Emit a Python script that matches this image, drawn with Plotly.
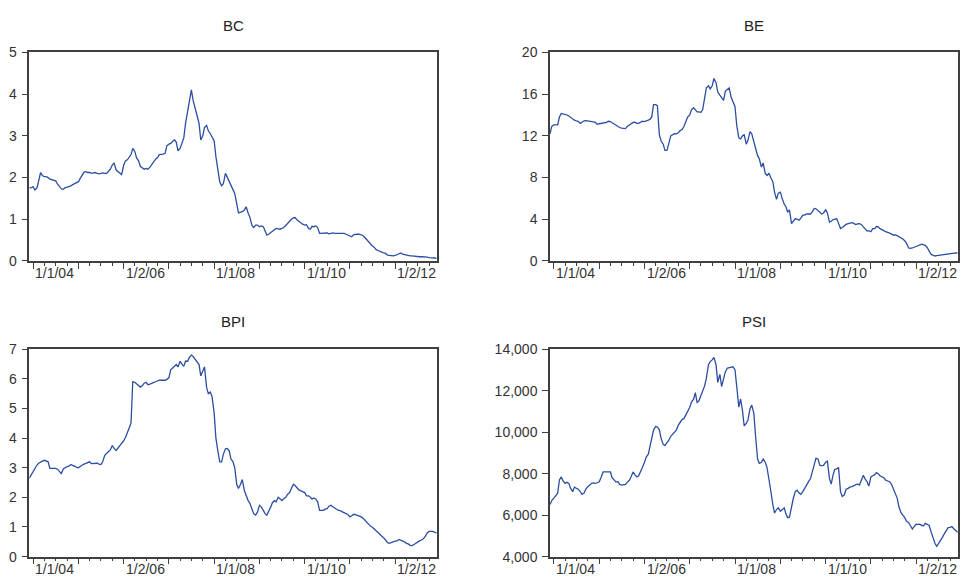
import pandas as pd
import plotly.graph_objects as go

# Observations on the 1st of each month (Dec 2003 .. Dec 2012) and on the 15th (Dec 2003 .. Nov 2012)
dates = pd.date_range("2003-12-01", "2012-12-01", freq="SMS")

bc_first = [1.75, 1.78, 1.75, 2.12, 2.02, 2.0, 1.95, 1.92, 1.78, 1.72,
            1.77, 1.8, 1.85, 1.9, 2.06, 2.14, 2.12, 2.11, 2.1, 2.1,
            2.1, 2.15, 2.3, 2.18, 2.12, 2.3, 2.43, 2.55, 2.62, 2.4,
            2.22, 2.22, 2.25, 2.38, 2.48, 2.55, 2.58, 2.8, 2.87, 2.85,
            2.7, 2.95, 3.6, 4.1, 3.62, 3.3, 3.0, 3.25, 3.05, 2.88,
            2.1, 1.8, 2.1, 1.9, 1.71, 1.4, 1.17, 1.22, 1.15, 0.85,
            0.86, 0.82, 0.82, 0.62, 0.68, 0.75, 0.77, 0.78, 0.85, 0.95,
            1.03, 0.98, 0.9, 0.86, 0.78, 0.83, 0.84, 0.66, 0.66, 0.67,
            0.66, 0.66, 0.66, 0.66, 0.64, 0.6, 0.63, 0.64, 0.63, 0.56,
            0.45, 0.36, 0.27, 0.22, 0.19, 0.14, 0.12, 0.13, 0.18, 0.16,
            0.13, 0.12, 0.11, 0.1, 0.1, 0.09, 0.08, 0.07, 0.06]
bc_mid = [1.75, 1.7, 1.95, 2.05, 2.02, 1.96, 1.94, 1.85, 1.73, 1.76,
          1.78, 1.83, 1.88, 1.98, 2.13, 2.12, 2.1, 2.12, 2.09, 2.11,
          2.1, 2.2, 2.35, 2.15, 2.07, 2.4, 2.48, 2.7, 2.47, 2.27,
          2.2, 2.2, 2.3, 2.44, 2.55, 2.56, 2.76, 2.82, 2.9, 2.64,
          2.8, 3.3, 3.9, 3.85, 3.5, 2.9, 3.2, 3.12, 2.98, 2.5,
          1.9, 1.85, 2.0, 1.82, 1.62, 1.15, 1.18, 1.3, 1.05, 0.8,
          0.86, 0.84, 0.7, 0.64, 0.72, 0.78, 0.76, 0.8, 0.9, 1.0,
          1.04, 0.95, 0.88, 0.87, 0.76, 0.82, 0.8, 0.66, 0.67, 0.65,
          0.67, 0.66, 0.65, 0.66, 0.62, 0.58, 0.64, 0.64, 0.61, 0.51,
          0.42, 0.33, 0.25, 0.21, 0.18, 0.13, 0.12, 0.15, 0.19, 0.15,
          0.12, 0.12, 0.11, 0.1, 0.1, 0.09, 0.08, 0.07]

be_first = [12.2, 13.06, 13.06, 14.15, 14.06, 13.9, 13.6, 13.44, 13.2, 13.44,
            13.44, 13.37, 13.3, 13.16, 13.2, 13.3, 13.37, 13.12, 12.9, 12.75,
            12.7, 13.06, 13.28, 13.2, 13.3, 13.37, 13.5, 13.84, 15.0, 12.1,
            11.2, 10.6, 12.0, 12.2, 12.3, 12.6, 13.5, 14.0, 14.7, 14.3,
            14.25, 15.9, 16.8, 16.8, 17.1, 15.9, 15.4, 16.5, 15.7, 14.8,
            11.8, 12.0, 11.2, 12.4, 11.5, 10.1, 9.0, 8.4, 8.4, 7.6,
            5.9, 6.6, 5.44, 4.67, 3.58, 4.04, 3.9, 4.4, 4.5, 4.5,
            5.04, 4.8, 4.5, 4.9, 3.73, 3.95, 4.04, 3.1, 3.42, 3.58,
            3.67, 3.48, 3.58, 3.27, 2.86, 2.8, 3.1, 3.27, 2.95, 2.8,
            2.64, 2.49, 2.43, 2.24, 1.93, 1.24, 1.24, 1.4, 1.55, 1.55,
            1.24, 0.62, 0.47, 0.53, 0.56, 0.62, 0.72, 0.78, 0.75]
be_mid = [12.9, 13.06, 13.8, 14.1, 14.0, 13.75, 13.5, 13.4, 13.3, 13.45,
          13.4, 13.35, 13.1, 13.2, 13.3, 13.4, 13.25, 13.0, 12.8, 12.7,
          12.9, 13.2, 13.3, 13.2, 13.4, 13.4, 13.6, 15.0, 14.9, 11.5,
          10.6, 11.2, 12.1, 12.2, 12.5, 12.9, 13.8, 14.5, 14.5, 14.3,
          14.5, 16.6, 16.5, 17.5, 16.2, 15.6, 16.3, 16.6, 15.2, 13.0,
          11.7, 12.1, 11.6, 12.2, 10.9, 9.8, 9.4, 8.2, 8.0, 6.6,
          6.5, 6.0, 5.2, 4.9, 3.8, 4.0, 4.1, 4.4, 4.5, 4.7,
          5.0, 4.6, 4.6, 4.6, 3.8, 4.0, 3.6, 3.2, 3.5, 3.6,
          3.6, 3.55, 3.5, 3.1, 2.9, 3.1, 3.3, 3.1, 2.9, 2.75,
          2.6, 2.5, 2.35, 2.1, 1.7, 1.2, 1.3, 1.45, 1.6, 1.5,
          0.9, 0.55, 0.5, 0.55, 0.58, 0.65, 0.75, 0.77]

bpi_first = [2.65, 2.87, 3.09, 3.2, 3.25, 3.2, 2.98, 2.98, 2.87, 2.96,
             3.04, 3.11, 3.04, 3.0, 3.09, 3.15, 3.2, 3.15, 3.15, 3.11,
             3.42, 3.53, 3.75, 3.58, 3.72, 3.91, 4.18, 4.51, 5.88, 5.77,
             5.77, 5.88, 5.82, 5.88, 5.93, 5.95, 5.95, 6.04, 6.37, 6.48,
             6.59, 6.42, 6.59, 6.8, 6.64, 6.48, 6.26, 5.71, 5.55, 4.84,
             3.53, 3.2, 3.64, 3.58, 3.2, 2.44, 2.44, 2.22, 1.89, 1.62,
             1.4, 1.73, 1.56, 1.4, 1.67, 1.89, 2.0, 1.89, 2.0, 2.16,
             2.44, 2.33, 2.22, 2.16, 2.05, 1.94, 1.94, 1.56, 1.56, 1.62,
             1.73, 1.62, 1.56, 1.51, 1.45, 1.34, 1.43, 1.4, 1.34, 1.23,
             1.07, 0.99, 0.85, 0.74, 0.63, 0.47, 0.49, 0.52, 0.58, 0.52,
             0.45, 0.38, 0.41, 0.52, 0.56, 0.69, 0.85, 0.85, 0.8]
bpi_mid = [2.75, 3.0, 3.15, 3.22, 3.22, 2.98, 2.98, 2.95, 2.8, 3.0,
           3.05, 3.08, 3.02, 3.05, 3.12, 3.18, 3.14, 3.16, 3.12, 3.2,
           3.48, 3.6, 3.65, 3.65, 3.8, 4.02, 4.35, 5.9, 5.82, 5.72,
           5.85, 5.8, 5.86, 5.9, 5.95, 5.95, 5.98, 6.3, 6.45, 6.4,
           6.5, 6.6, 6.72, 6.75, 6.55, 6.1, 6.4, 5.5, 5.4, 4.0,
           3.2, 3.45, 3.65, 3.3, 3.0, 2.3, 2.6, 2.05, 1.8, 1.45,
           1.5, 1.68, 1.45, 1.5, 1.82, 1.85, 1.95, 1.95, 2.1, 2.3,
           2.4, 2.25, 2.2, 2.05, 2.0, 1.98, 1.85, 1.56, 1.6, 1.7,
           1.68, 1.6, 1.55, 1.48, 1.42, 1.38, 1.42, 1.38, 1.3, 1.17,
           1.03, 0.94, 0.8, 0.7, 0.56, 0.45, 0.5, 0.53, 0.56, 0.5,
           0.43, 0.37, 0.45, 0.53, 0.6, 0.8, 0.86, 0.82]

psi_first = [6510, 6820, 7060, 7840, 7530, 7530, 7130, 7290, 7130, 7060,
             7370, 7530, 7530, 7610, 8080, 8080, 8080, 7680, 7610, 7450,
             7480, 7680, 8080, 7840, 8080, 8550, 8940, 9640, 10270, 10110,
             9410, 9490, 9800, 9990, 10340, 10620, 10820, 11200, 11590, 11440,
             11750, 12230, 13250, 13480, 13250, 12780, 12620, 13090, 13120, 13010,
             11200, 11050, 10420, 11130, 10900, 8700, 8550, 8550, 7760, 6510,
             6270, 6190, 6350, 5880, 6430, 7130, 7060, 7130, 7450, 7760,
             8390, 8700, 8390, 8550, 7760, 7920, 8230, 7130, 6980, 7290,
             7370, 7450, 7450, 7920, 7610, 7840, 7950, 8000, 7840, 7680,
             7610, 7290, 6820, 6120, 5880, 5650, 5330, 5560, 5560, 5490,
             5560, 5180, 4630, 4630, 4940, 5250, 5410, 5330, 5180]
psi_mid = [6700, 6950, 7700, 7650, 7580, 7300, 7350, 7250, 7000, 7250,
           7450, 7550, 7560, 7800, 8080, 8080, 7800, 7600, 7480, 7470,
           7580, 7850, 7950, 7900, 8300, 8800, 9300, 10100, 10250, 9700,
           9350, 9600, 9900, 10100, 10500, 10650, 11000, 11450, 11900, 11500,
           11950, 12600, 13400, 13600, 12400, 12200, 12900, 13100, 13150, 12200,
           11600, 10300, 10600, 11300, 9800, 8500, 8700, 8300, 7200, 6100,
           6350, 6250, 6050, 5900, 6800, 7200, 7000, 7300, 7600, 8100,
           8750, 8400, 8400, 8600, 7500, 8200, 8300, 6900, 7250, 7350,
           7400, 7500, 7650, 7750, 7400, 7900, 8050, 7900, 7800, 7650,
           7500, 7100, 6400, 6000, 5700, 5500, 5450, 5550, 5500, 5600,
           5500, 4900, 4500, 4800, 5100, 5400, 5450, 5250]


def interleave(first, mid):
    out = []
    for i, v in enumerate(first):
        out.append(v)
        if i < len(mid):
            out.append(mid[i])
    return out


titles = ["BC", "BE", "BPI", "PSI"]
series = [interleave(bc_first, bc_mid), interleave(be_first, be_mid),
          interleave(bpi_first, bpi_mid), interleave(psi_first, psi_mid)]
y_ranges = [[0, 5], [0, 20], [0, 7], [4000, 14000]]
y_dticks = [1, 4, 1, 2000]
label_dates = ["2004-01-01", "2006-01-02", "2008-01-01", "2010-01-01", "2012-01-02"]
label_text = ["1/1/04", "1/2/06", "1/1/08", "1/1/10", "1/2/12"]

W, H = 962, 587
x_domains = [[29.3 / W, 436.7 / W], [550 / W, 957.7 / W]]
y_domains = [[(H - 260) / H, (H - 45.7) / H], [(H - 564) / H, (H - 350.7) / H]]
title_y = [(H - 18) / H, (H - 322) / H]
label_y = [(H - 272) / H, (H - 577) / H]

LINE = "#2b4ea2"
AX = "#404040"
FONT = "Liberation Sans, Arial, sans-serif"

fig = go.Figure()
layout = dict(
    width=W, height=H, autosize=False,
    margin=dict(l=0, r=0, t=0, b=0, pad=0),
    paper_bgcolor="white", plot_bgcolor="white",
    showlegend=False,
    font=dict(family=FONT, size=13, color="#333333"),
)
annotations = []
xr = [dates[0], dates[-1]]

for i in range(4):
    row, col = divmod(i, 2)
    n = i + 1
    xa = "x" if n == 1 else f"x{n}"
    ya = "y" if n == 1 else f"y{n}"
    fig.add_trace(go.Scatter(
        x=dates, y=series[i], mode="lines",
        line=dict(color=LINE, width=1.3),
        xaxis=xa, yaxis=ya, hoverinfo="skip"))
    xkey = "xaxis" if n == 1 else f"xaxis{n}"
    ykey = "yaxis" if n == 1 else f"yaxis{n}"
    layout[xkey] = dict(
        domain=x_domains[col], anchor=ya, type="date", range=xr,
        showgrid=False, zeroline=False,
        showline=True, linecolor=AX, linewidth=1.5, mirror=True,
        ticks="outside", ticklen=6, tickwidth=1, tickcolor=AX,
        tick0="2004-01-01", dtick="M12", showticklabels=False,
        minor=dict(ticks="outside", ticklen=3, tickwidth=1, tickcolor=AX,
                   dtick="M3", tick0="2004-01-01", showgrid=False),
    )
    layout[ykey] = dict(
        domain=y_domains[row], anchor=xa, range=y_ranges[i],
        dtick=y_dticks[i], tick0=y_ranges[i][0],
        showgrid=False, zeroline=False,
        showline=True, linecolor=AX, linewidth=1.5, mirror=True,
        ticks="outside", ticklen=6, tickwidth=1, tickcolor=AX,
        tickformat=",d" if i == 3 else "d",
        tickfont=dict(family=FONT, size=14, color="#333333"),
        ticklabelstandoff=2,
    )
    annotations.append(dict(
        text=titles[i], xref="paper", yref="paper",
        x=sum(x_domains[col]) / 2, y=title_y[row],
        xanchor="center", yanchor="middle", showarrow=False,
        font=dict(family=FONT, size=15, color="#222222")))
    for d, t in zip(label_dates, label_text):
        annotations.append(dict(
            text=t, xref=xa, yref="paper", x=d, y=label_y[row],
            xanchor="left", yanchor="middle", showarrow=False, xshift=0,
            font=dict(family=FONT, size=14, color="#333333")))

layout["annotations"] = annotations
fig.update_layout(**layout)
fig.write_html(
    "out.html",
    config={"responsive": False, "displayModeBar": False},
    post_script="document.body.style.margin='0';document.body.style.padding='0';"
                "document.documentElement.style.overflow='hidden';",
)
